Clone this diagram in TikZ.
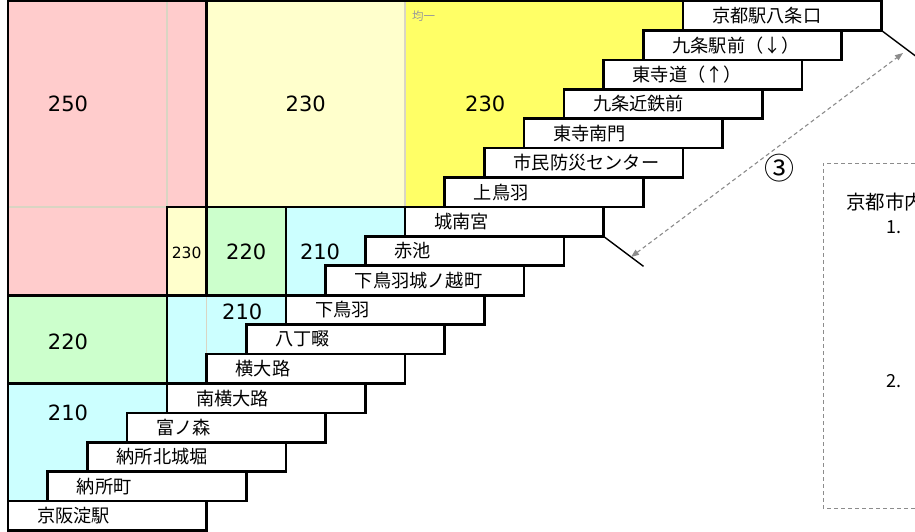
\documentclass[tikz,border=0pt]{standalone}
\usepackage{fontspec}
\setmainfont{Noto Sans CJK JP}
\newfontfamily\numfont{DejaVu Sans}
\usetikzlibrary{arrows.meta}
\definecolor{cpink}{HTML}{FFCCCC}
\definecolor{clyel}{HTML}{FFFFCC}
\definecolor{cyel}{HTML}{FFFF66}
\definecolor{cgreen}{HTML}{CCFFCC}
\definecolor{ccyan}{HTML}{CCFFFF}
\definecolor{beige}{HTML}{D9D5C3}
\definecolor{dgray}{HTML}{8C8C8C}
\tikzset{
  outline/.style={draw=black, line width=2.6pt, line join=miter},
  gridln/.style={draw=beige, line width=1.4pt},
  stbox/.style={draw=black, fill=white, line width=2.6pt, rectangle, minimum width=198.5pt, minimum height=29.42pt, inner sep=0pt, outer sep=0pt, anchor=north west},
  sttext/.style={anchor=west, inner sep=0pt, font=\fontsize{18.2}{20}\selectfont},
  fare/.style={font=\numfont\fontsize{21}{24}\selectfont, inner sep=0pt},
  faresmall/.style={font=\numfont\fontsize{15.5}{18}\selectfont, inner sep=0pt},
  brk/.style={draw=black, line width=1.4pt},
  dimarrow/.style={draw=dgray, line width=1.1pt, dash pattern=on 4pt off 3pt, {Triangle[length=8pt,width=6pt]}-{Triangle[length=8pt,width=6pt]}},
  notebox/.style={draw=dgray, line width=0.9pt, dash pattern=on 4pt off 3pt},
  notetext/.style={anchor=west, inner sep=0pt, font=\fontsize{19.5}{22}\selectfont},
  notenum/.style={anchor=west, inner sep=0pt, font=\fontsize{18}{20}\selectfont},
}
\begin{document}
\begin{tikzpicture}
\useasboundingbox (0pt,0pt) rectangle (915pt,-532pt);
\clip (0pt,0pt) rectangle (915pt,-532pt);
\begin{scope}[shift={(8pt,-1pt)}, x=39.7pt, y=-29.42pt]
  % fills
  \fill[cpink] (0,0) -- (5,0) -- (5,7) -- (4,7) -- (4,10) -- (0,10) -- cycle;
  \fill[clyel] (5,0) rectangle (10,7);
  \fill[cyel] (10,0) -- (17,0) -- (17,1) -- (16,1) -- (16,2) -- (15,2) -- (15,3) -- (14,3) -- (14,4) -- (13,4) -- (13,5) -- (12,5) -- (12,6) -- (11,6) -- (11,7) -- (10,7) -- cycle;
  \fill[clyel] (4,7) rectangle (5,10);
  \fill[cgreen] (5,7) rectangle (7,10);
  \fill[ccyan] (7,7) -- (10,7) -- (10,8) -- (9,8) -- (9,9) -- (8,9) -- (8,10) -- (7,10) -- cycle;
  \fill[cgreen] (0,10) rectangle (4,13);
  \fill[ccyan] (4,10) -- (7,10) -- (7,11) -- (6,11) -- (6,12) -- (5,12) -- (5,13) -- (4,13) -- cycle;
  \fill[ccyan] (0,13) -- (4,13) -- (4,14) -- (3,14) -- (3,15) -- (2,15) -- (2,16) -- (1,16) -- (1,17) -- (0,17) -- cycle;
  % thin grid lines
  \path[gridln] (4,0) -- (4,7) -- (0,7);
  \path[gridln] (10,0) -- (10,7);
  \path[gridln] (5,10) -- (5,12);
  % outlines
  \path[outline] (0,0) -- (5,0) -- (5,7) -- (4,7) -- (4,10) -- (0,10) -- cycle;
  \path[outline] (5,0) -- (17,0) -- (17,1) -- (16,1) -- (16,2) -- (15,2) -- (15,3) -- (14,3) -- (14,4) -- (13,4) -- (13,5) -- (12,5) -- (12,6) -- (11,6) -- (11,7) -- (5,7) -- cycle;
  \path[outline] (4,7) rectangle (5,10);
  \path[outline] (5,7) rectangle (7,10);
  \path[outline] (7,7) -- (10,7) -- (10,8) -- (9,8) -- (9,9) -- (8,9) -- (8,10) -- (7,10) -- cycle;
  \path[outline] (0,10) rectangle (4,13);
  \path[outline] (4,10) -- (7,10) -- (7,11) -- (6,11) -- (6,12) -- (5,12) -- (5,13) -- (4,13) -- cycle;
  \path[outline] (0,13) -- (4,13) -- (4,14) -- (3,14) -- (3,15) -- (2,15) -- (2,16) -- (1,16) -- (1,17) -- (0,17) -- (0,18) -- cycle;
  % fares
  \node[fare] (f250) at (1.51,3.5) {250};
  \node[fare] (f230a) at (7.5,3.5) {230};
  \node[fare] (f230b) at (12.02,3.5) {230};
  \node[faresmall] (f230c) at (4.5,8.55) {230};
  \node[fare] (f220a) at (6.0,8.52) {220};
  \node[fare] (f210a) at (7.86,8.52) {210};
  \node[fare] (f210b) at (5.9,10.57) {210};
  \node[fare] (f220b) at (1.51,11.6) {220};
  \node[fare] (f210c) at (1.51,14.0) {210};
  % stations
  \foreach \nm [count=\i from 0] in {京都駅八条口,九条駅前（↓）,東寺道（↑）,九条近鉄前,東寺南門,市民防災センター,上鳥羽,城南宮,赤池,下鳥羽城ノ越町,下鳥羽,八丁畷,横大路,南横大路,富ノ森,納所北城堀,納所町,京阪淀駅}{
    \pgfmathtruncatemacro\cc{17-\i}
    \node[stbox] (s\i) at (\cc,\i) {};
    \node[sttext] (t\i) at ([xshift=29pt]s\i.west) {\nm};
  }
\end{scope}
% small label
\node[anchor=west, inner sep=0pt, text=gray!80, font=\fontsize{11.5}{13}\selectfont] (flat) at (412pt,-16pt) {均一};
% break lines
\coordinate (b1) at ([shift={(40pt,-30pt)}]s0.south east);
\coordinate (b2) at ([shift={(40pt,-30pt)}]s7.south east);
\draw[brk] (s0.south east) -- (b1);
\draw[brk] (s7.south east) -- (b2);
% dimension arrow
\coordinate (a1) at (631pt,-257pt);
\coordinate (a2) at (903pt,-53pt);
\draw[dimarrow] (a1) -- (a2);
\node[inner sep=0pt, font=\fontsize{30}{32}\selectfont] (c3) at (779pt,-168pt) {③};
% note box
\coordinate (n1) at (915pt,-163pt);
\coordinate (n2) at (823pt,-163pt);
\coordinate (n3) at (823pt,-508pt);
\coordinate (n4) at (915pt,-508pt);
\draw[notebox] (n1) -- (n2) -- (n3) -- (n4);
\node[notetext] (nt) at (846pt,-202pt) {京都市内};
\node[notenum] (n1t) at (886pt,-227pt) {1.};
\node[notenum] (n2t) at (886pt,-381pt) {2.};
\end{tikzpicture}
\end{document}
